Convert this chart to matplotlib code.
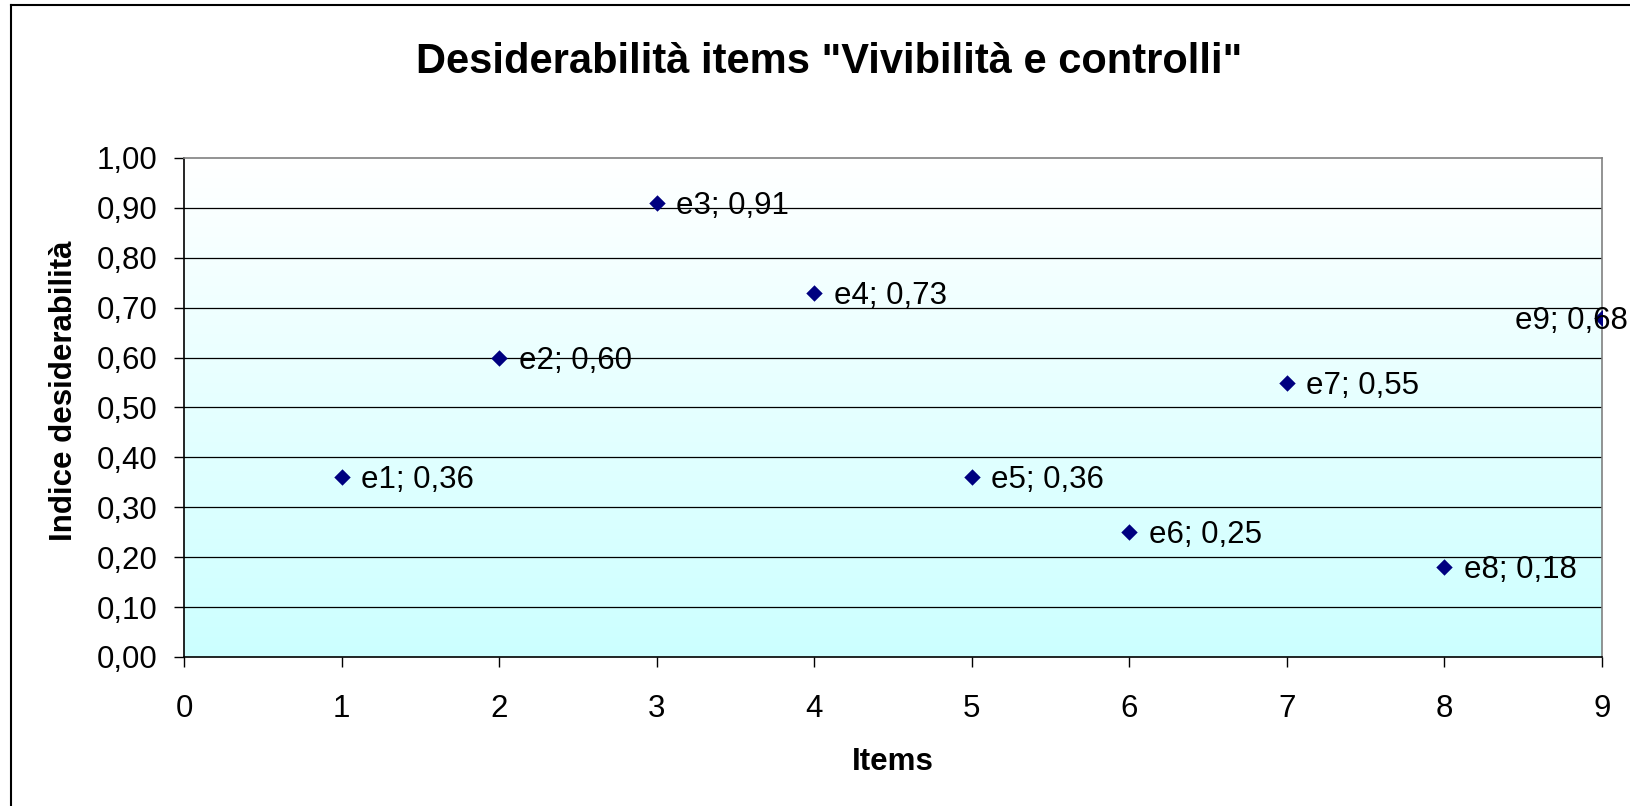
import matplotlib.pyplot as plt
import numpy as np
from matplotlib.colors import LinearSegmentedColormap
from matplotlib.lines import Line2D

plt.rcParams['font.family'] = ['Liberation Sans', 'DejaVu Sans']

# Data
items = [1, 2, 3, 4, 5, 6, 7, 8, 9]
labels = ['e1', 'e2', 'e3', 'e4', 'e5', 'e6', 'e7', 'e8', 'e9']
values = [0.36, 0.60, 0.91, 0.73, 0.36, 0.25, 0.55, 0.18, 0.68]
x_ticks = list(range(0, 10))
y_ticks = [0.0, 0.1, 0.2, 0.3, 0.4, 0.5, 0.6, 0.7, 0.8, 0.9, 1.0]


def fmt(v):
    return f"{v:.2f}".replace('.', ',')


fig = plt.figure(figsize=(16.3, 8.06), dpi=100)
ax = fig.add_axes([0.1129, 0.1849, 0.8699, 0.6191])

# gradient background: white at top -> light cyan at bottom
cmap = LinearSegmentedColormap.from_list('bg', ['#ccffff', '#ffffff'])
grad = np.linspace(0, 1, 256).reshape(-1, 1)
ax.imshow(grad, extent=[0, 9, 0, 1], origin='lower', aspect='auto',
          cmap=cmap, zorder=0)

ax.set_xlim(0, 9)
ax.set_ylim(0, 1)
ax.set_xticks(x_ticks)
ax.set_yticks(y_ticks)
ax.set_yticklabels([fmt(v) for v in y_ticks])

for y in y_ticks[1:-1]:
    ax.axhline(y, color='black', linewidth=0.9, zorder=1)

ax.scatter(items, values, marker='D', s=70, color='#000080', zorder=3,
           linewidths=0)

for xv, yv, lab in zip(items, values, labels):
    txt = f"{lab}; {fmt(yv)}"
    if xv == 9:
        ax.annotate(txt, (xv, yv), xytext=(19, -8), textcoords='offset points',
                    ha='right', va='baseline', fontsize=22.5, zorder=4,
                    annotation_clip=False)
    else:
        ax.annotate(txt, (xv, yv), xytext=(14, -8), textcoords='offset points',
                    ha='left', va='baseline', fontsize=22.5, zorder=4)

ax.tick_params(axis='both', direction='out', length=7, width=1,
               labelsize=22.5, color='black')
ax.tick_params(axis='x', pad=20)
ax.tick_params(axis='y', pad=12)

ax.spines['left'].set_color('black')
ax.spines['bottom'].set_color('black')
ax.spines['top'].set_color('#808080')
ax.spines['right'].set_color('#808080')
for s in ax.spines.values():
    s.set_linewidth(1.2)

fig.text(0.5086, 1 - 73 / 806, 'Desiderabilità items "Vivibilità e controlli"',
         ha='center', va='baseline', fontsize=30, fontweight='bold')
fig.text(0.548, 1 - 770 / 806, 'Items', ha='center', va='baseline',
         fontsize=22.5, fontweight='bold')
fig.text(0.039, 1 - 391 / 806, 'Indice desiderabilità', ha='center',
         va='center', rotation=90, fontsize=22.5, fontweight='bold')

# outer chart frame (top and left edges visible)
fig.add_artist(Line2D([11 / 1630, 11 / 1630], [0, 1 - 5 / 806],
                      transform=fig.transFigure, color='black', linewidth=1.5))
fig.add_artist(Line2D([11 / 1630, 1], [1 - 5 / 806, 1 - 5 / 806],
                      transform=fig.transFigure, color='black', linewidth=1.5))

fig.savefig('out.png', dpi=100)
